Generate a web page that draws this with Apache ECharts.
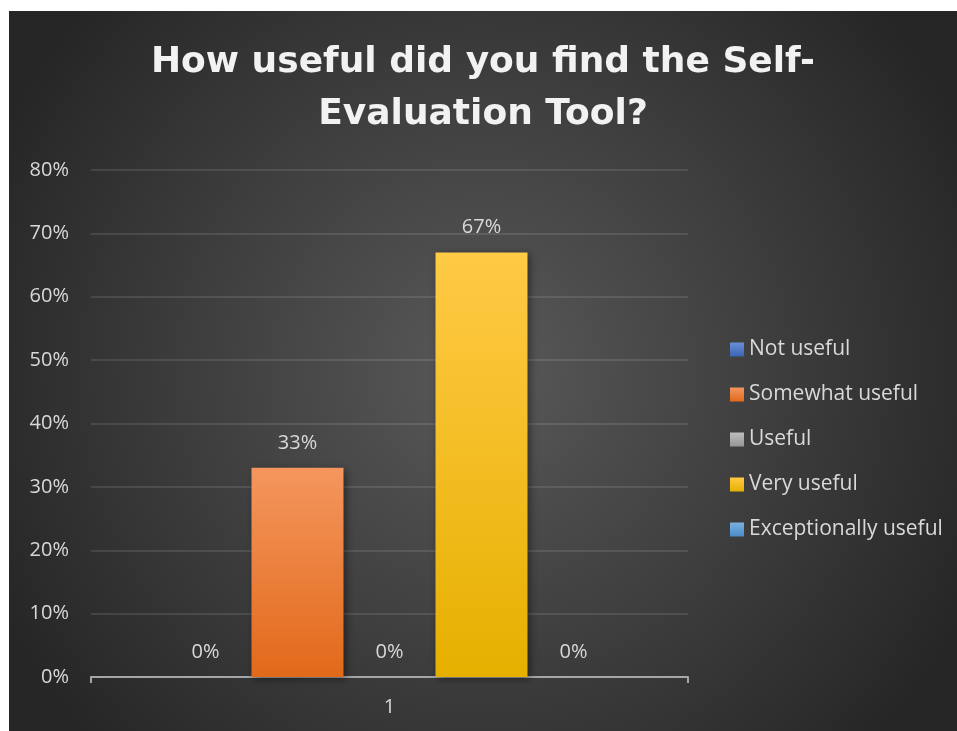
<!DOCTYPE html>
<html><head><meta charset="utf-8">
<script src="https://cdn.jsdelivr.net/npm/echarts@6/dist/echarts.min.js"></script>
<style>
html,body{margin:0;padding:0;background:#fff;width:957px;height:731px;overflow:hidden;}
#c{position:absolute;left:9px;top:11px;width:948px;height:720px;}
</style></head>
<body><div id="c"></div>
<script>
const titleText = 'How useful did you find the Self-\nEvaluation Tool?';
const categories = ['1'];
const seriesNames = ['Not useful', 'Somewhat useful', 'Useful', 'Very useful', 'Exceptionally useful'];
const seriesValues = [0, 33, 0, 67, 0];
const yTicks = { min: 0, max: 80, interval: 10 };
const topColors = ['#6a8fd6', '#f4965e', '#bdbdbd', '#ffca45', '#7cb1e0'];
const bottomColors = ['#3a64b3', '#e2691a', '#969696', '#e6b000', '#4a8bc8'];

const chart = echarts.init(document.getElementById('c'), null, { renderer: 'canvas' });
const font = '"Open Sans", "Noto Sans", sans-serif';
const series = seriesNames.map((name, i) => ({
  name: name,
  type: 'bar',
  data: [seriesValues[i]],
  barWidth: 92,
  barGap: '0%',
  itemStyle: {
    color: new echarts.graphic.LinearGradient(0, 0, 0, 1, [
      { offset: 0, color: topColors[i] },
      { offset: 1, color: bottomColors[i] }
    ]),
    shadowBlur: 8,
    shadowColor: 'rgba(0,0,0,0.45)',
    shadowOffsetX: 2,
    shadowOffsetY: 2
  },
  label: {
    show: true,
    position: 'top',
    distance: 15,
    formatter: '{c}%',
    color: '#d9d9d9',
    fontSize: 20,
    fontFamily: font
  }
}));

chart.setOption({
  backgroundColor: {
    type: 'radial', x: 0.5, y: 0.5, r: 0.75,
    colorStops: [
      { offset: 0, color: '#595959' },
      { offset: 1, color: '#262626' }
    ]
  },
  title: {
    text: titleText,
    left: 'center',
    top: 21,
    textStyle: {
      color: '#f2f2f2',
      fontSize: 36,
      fontWeight: 'bold',
      fontFamily: '"DejaVu Sans", sans-serif',
      lineHeight: 52
    }
  },
  legend: {
    orient: 'vertical',
    left: 716,
    top: 323,
    icon: 'rect',
    itemWidth: 14,
    itemHeight: 14,
    itemGap: 24,
    data: seriesNames,
    textStyle: { color: '#d9d9d9', fontSize: 21, fontFamily: font, lineHeight: 21 }
  },
  grid: { left: 82, right: 269, top: 159, bottom: 54, containLabel: false },
  xAxis: {
    type: 'category',
    data: categories,
    axisLine: { lineStyle: { color: '#a6a6a6', width: 2 } },
    axisTick: { show: true, length: 6, lineStyle: { color: '#a6a6a6', width: 2 } },
    axisLabel: { color: '#d9d9d9', fontSize: 20, fontFamily: font, margin: 20 }
  },
  yAxis: {
    type: 'value',
    min: yTicks.min, max: yTicks.max, interval: yTicks.interval,
    axisLine: { show: false },
    axisTick: { show: false },
    axisLabel: { color: '#d9d9d9', fontSize: 20, fontFamily: font, margin: 22, formatter: '{value}%' },
    splitLine: { lineStyle: { color: 'rgba(255,255,255,0.14)', width: 1.5 } }
  },
  series: series
});
</script></body></html>
